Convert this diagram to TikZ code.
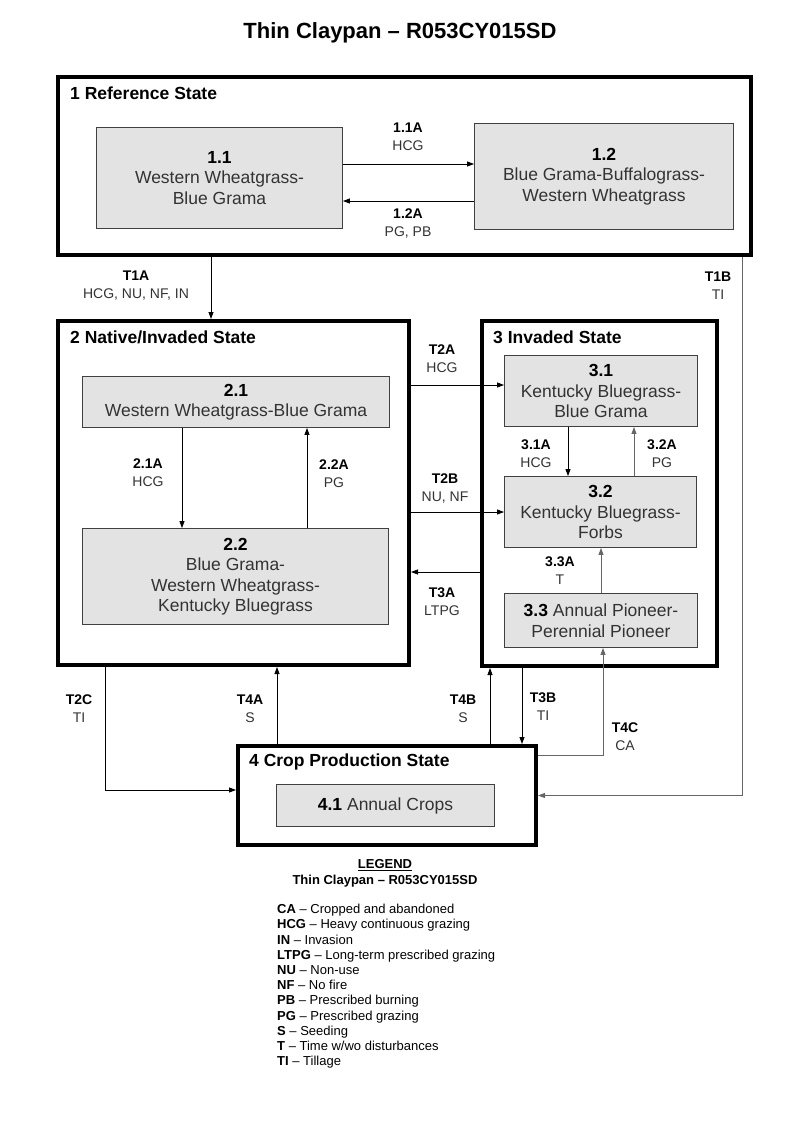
\documentclass[tikz,border=0pt]{standalone}
\usepackage{fontspec}
\setmainfont{Liberation Sans}
\usetikzlibrary{arrows.meta}

\newcommand{\fs}[2]{\fontsize{#1}{#2}\selectfont}
\newcommand{\trans}[2]{\textbf{\color{black}#1}\\#2}
\newcommand{\cnum}[1]{{\color{black}\bfseries #1}}

\begin{document}
\begin{tikzpicture}[x=1pt,y=-1pt,
    state/.style={draw=black,line width=4pt,inner sep=0pt},
    comm/.style={draw=black!75,fill=black!11,line width=0.9pt,inner sep=0pt,align=center,text=black!80,font=\fs{17.5}{20.5}},
    stitle/.style={anchor=west,inner sep=0pt,font=\bfseries\fs{17.5}{20}},
    lab/.style={align=center,inner sep=0pt,font=\fs{14}{18},text=black!80},
    arr/.style={-{Triangle[length=7pt,width=5pt]},line width=0.8pt},
    grayarr/.style={arr,draw=black!60}]
			\useasboundingbox[fill=white] (0,0) rectangle (800,1143);
			\node (title) at (400,33) [font=\bfseries\fs{22}{26}] {Thin Claypan -- R053CY015SD};
			
			% states
			\node (s1) at (404.5,166) [state,minimum width=693,minimum height=178] {};
			\node (s2) at (233.5,493) [state,minimum width=351,minimum height=344] {};
			\node (s3) at (599.5,493.5) [state,minimum width=235,minimum height=345] {};
			\node (s4) at (387,795.5) [state,minimum width=298,minimum height=99] {};
			\node (t1) at (70,93) [stitle] {1 Reference State};
			\node (t2) at (70,337) [stitle] {2 Native/Invaded State};
			\node (t3) at (493,337) [stitle] {3 Invaded State};
			\node (t4) at (249,762) [stitle] {4 Crop Production State};
			
			% communities
			\node (c11) at (219.5,178) [comm,minimum width=246,minimum height=101] {\cnum{1.1}\\Western Wheatgrass-\\Blue Grama};
			\node (c12) at (604,176.5) [comm,minimum width=259,minimum height=106] {\cnum{1.2}\\Blue Grama-Buffalograss-\\Western Wheatgrass};
			\node (c21) at (236,402) [comm,minimum width=307,minimum height=51] {\cnum{2.1}\\Western Wheatgrass-Blue Grama};
			\node (c22) at (235.5,576.5) [comm,minimum width=306,minimum height=96] {\cnum{2.2}\\Blue Grama-\\Western Wheatgrass-\\Kentucky Bluegrass};
			\node (c31) at (601,391) [comm,minimum width=193,minimum height=71] {\cnum{3.1}\\Kentucky Bluegrass-\\Blue Grama};
			\node (c32) at (600.5,512) [comm,minimum width=192,minimum height=71] {\cnum{3.2}\\Kentucky Bluegrass-\\Forbs};
			\node (c33) at (601,620.5) [comm,minimum width=193,minimum height=54] {\cnum{3.3} Annual Pioneer-\\Perennial Pioneer};
			\node (c41) at (385.5,805.5) [comm,minimum width=218,minimum height=42] {\cnum{4.1} Annual Crops};
			
			% pathways inside states
			\draw[arr] ([yshift=14pt]c11.east) -- ([yshift=14pt]c11.east -| c12.west);
			\draw[arr] ([yshift=-23pt]c11.east -| c12.west) -- ([yshift=-23pt]c11.east);
			\draw[arr] ([xshift=-54pt]c21.south) -- ([xshift=-54pt]c21.south |- c22.north);
			\draw[arr] ([xshift=71.5pt]c22.north) -- ([xshift=71.5pt]c22.north |- c21.south);
			\draw[arr] ([xshift=-33pt]c31.south) -- ([xshift=-33pt]c31.south |- c32.north);
			\draw[grayarr] ([xshift=33.5pt]c32.north) -- ([xshift=33.5pt]c32.north |- c31.south);
			\draw[grayarr] (c33.north) -- (c33.north |- c32.south);
			
			% transitions
			\draw[arr] ([xshift=-193.5pt]s1.south) -- ([xshift=-193.5pt]s1.south |- s2.north);
			\draw[grayarr] ([xshift=337.5pt]s1.south) |- (s4.east);
			\draw[arr] ([yshift=108pt]s2.east) -- ([yshift=108pt]s2.east -| c31.west);
			\draw[arr] (s2.east |- c32.west) -- (c32.west);
			\draw[arr] ([yshift=-78.5pt]s3.west) -- ([yshift=-78.5pt]s3.west -| s2.east);
			\draw[arr] ([xshift=-128.5pt]s2.south) |- ([yshift=5.5pt]s4.west);
			\draw[arr] ([xshift=-110pt]s4.north) -- ([xshift=-110pt]s4.north |- s2.south);
			\draw[arr] ([xshift=103pt]s4.north) -- ([xshift=103pt]s4.north |- s3.south);
			\draw[arr] ([xshift=-77.5pt]s3.south) -- ([xshift=-77.5pt]s3.south |- s4.north);
			\draw[grayarr] ([yshift=40.5pt]s4.east) -| ([xshift=2pt]c33.south);
			
			% labels
			\node (l11a) at (408,137) [lab] {\trans{1.1A}{HCG}};
			\node (l12a) at (408,224) [lab] {\trans{1.2A}{PG, PB}};
			\node (lt1a) at (136,286) [lab] {\trans{T1A}{HCG, NU, NF, IN}};
			\node (lt1b) at (718,286) [lab] {\trans{T1B}{TI}};
			\node (l21a) at (148,473) [lab] {\trans{2.1A}{HCG}};
			\node (l22a) at (334,474) [lab] {\trans{2.2A}{PG}};
			\node (lt2a) at (442,359) [lab] {\trans{T2A}{HCG}};
			\node (lt2b) at (445,488.5) [lab] {\trans{T2B}{NU, NF}};
			\node (lt3a) at (442,601.5) [lab] {\trans{T3A}{LTPG}};
			\node (l31a) at (536,453.5) [lab] {\trans{3.1A}{HCG}};
			\node (l32a) at (662,454) [lab] {\trans{3.2A}{PG}};
			\node (l33a) at (560,570.5) [lab] {\trans{3.3A}{T}};
			\node (lt2c) at (79,709) [lab] {\trans{T2C}{TI}};
			\node (lt4a) at (250,709) [lab] {\trans{T4A}{S}};
			\node (lt4b) at (463,709) [lab] {\trans{T4B}{S}};
			\node (lt3b) at (543,706.5) [lab] {\trans{T3B}{TI}};
			\node (lt4c) at (625,737) [lab] {\trans{T4C}{CA}};
			
			% legend
			\node (leghead) at (385,873) [align=center,inner sep=0pt,font=\bfseries\fs{13}{16}] {\underline{LEGEND}\\Thin Claypan -- R053CY015SD};
			\node (legend) at (277,904) [anchor=north west,align=left,inner sep=0pt,font=\fs{13}{15.2}] {%
				\textbf{CA} -- Cropped and abandoned\\
				\textbf{HCG} -- Heavy continuous grazing\\
				\textbf{IN} -- Invasion\\
				\textbf{LTPG} -- Long-term prescribed grazing\\
				\textbf{NU} -- Non-use\\
				\textbf{NF} -- No fire\\
				\textbf{PB} -- Prescribed burning\\
				\textbf{PG} -- Prescribed grazing\\
				\textbf{S} -- Seeding\\
				\textbf{T} -- Time w/wo disturbances\\
				\textbf{TI} -- Tillage};
		\end{tikzpicture}
\end{document}
